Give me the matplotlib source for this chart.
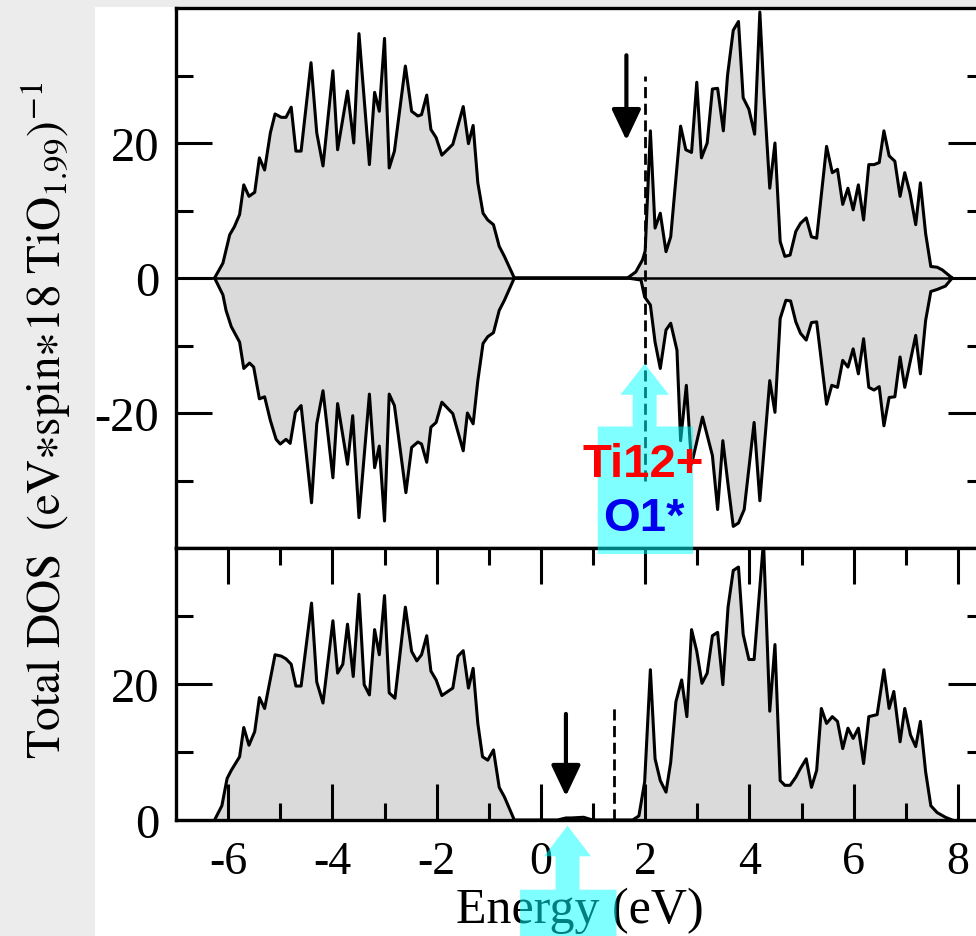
import numpy as np
import matplotlib
matplotlib.use('Agg')
import matplotlib.pyplot as plt
from matplotlib.patches import Polygon, Rectangle, FancyArrowPatch
from matplotlib.ticker import FixedLocator

plt.rcParams['font.family'] = ['Liberation Serif', 'DejaVu Serif']
plt.rcParams['mathtext.fontset'] = 'stix'
plt.rcParams['axes.unicode_minus'] = False

# ---------------- data ----------------
# top panel, spin up (valence band + conduction band)
up_E_val = [-6.26, -6.10, -5.97, -5.88, -5.78, -5.70, -5.60, -5.49, -5.40, -5.30,
            -5.19, -5.10, -4.98, -4.89, -4.79, -4.70, -4.60, -4.41, -4.30, -4.18,
            -3.99, -3.90, -3.71, -3.59, -3.49, -3.29, -3.19, -3.10, -3.00, -2.91,
            -2.81, -2.60, -2.48, -2.36, -2.29, -2.19, -2.11, -2.01, -1.90, -1.69,
            -1.49, -1.39, -1.30, -1.21, -1.11, -1.02, -0.91, -0.80, -0.70, -0.51]
up_D_val = [0, 2.2, 6.4, 7.6, 9.4, 13.8, 12.1, 12.7, 17.8, 16.0,
            21.5, 24.3, 23.8, 23.8, 25.3, 18.8, 18.8, 31.9, 21.5, 16.6,
            30.7, 19.0, 27.7, 20.0, 36.2, 16.8, 27.5, 24.7, 35.5, 16.3,
            18.8, 31.4, 24.7, 24.0, 24.2, 27.1, 22.0, 20.8, 18.2, 19.8,
            25.4, 19.9, 22.6, 14.1, 9.6, 8.6, 7.9, 4.7, 3.2, 0]
up_E_con = [1.66, 1.82, 1.95, 2.00, 2.10, 2.19, 2.29, 2.40, 2.49, 2.68,
            2.78, 2.89, 2.99, 3.08, 3.19, 3.29, 3.39, 3.50, 3.58, 3.69,
            3.79, 3.88, 3.99, 4.10, 4.20, 4.28, 4.39, 4.49, 4.59, 4.68,
            4.78, 4.89, 4.98, 5.09, 5.19, 5.29, 5.48, 5.59, 5.69, 5.79,
            5.89, 5.99, 6.09, 6.19, 6.29, 6.39, 6.49, 6.58, 6.68, 6.79,
            6.89, 6.98, 7.08, 7.19, 7.28, 7.38, 7.48, 7.60, 7.70, 7.89]
up_D_con = [0, 0.9, 2.7, 4.0, 21.8, 7.4, 9.6, 3.9, 6.1, 22.5,
            19.0, 18.6, 29.0, 17.8, 20.0, 28.0, 28.1, 21.8, 30.0, 36.7,
            38.0, 26.7, 25.0, 21.3, 39.4, 27.2, 13.3, 20.0, 5.4, 3.2,
            3.4, 6.9, 8.1, 8.9, 6.1, 5.9, 19.5, 15.6, 16.1, 10.9,
            13.3, 10.1, 13.8, 8.6, 16.8, 16.8, 17.1, 21.8, 18.1, 17.3,
            12.1, 15.6, 12.6, 7.9, 14.1, 6.6, 1.7, 1.6, 1.2, 0]

# top panel, spin down (magnitudes, plotted negative)
dn_E_val = [-6.26, -6.10, -6.04, -5.94, -5.78, -5.70, -5.59, -5.51, -5.40, -5.30,
            -5.19, -5.08, -5.00, -4.89, -4.81, -4.71, -4.60, -4.40, -4.30, -4.18,
            -3.99, -3.90, -3.71, -3.61, -3.49, -3.29, -3.19, -3.10, -3.00, -2.91,
            -2.81, -2.59, -2.48, -2.36, -2.29, -2.19, -2.11, -2.01, -1.90, -1.69,
            -1.49, -1.41, -1.30, -1.21, -1.11, -1.02, -0.91, -0.80, -0.70, -0.51]
dn_D_val = [0, 2.5, 4.8, 7.2, 9.5, 13.4, 12.6, 13.2, 17.9, 17.6,
            21.1, 23.9, 24.6, 23.9, 24.5, 19.9, 18.9, 33.3, 21.6, 16.7,
            29.6, 18.6, 27.6, 20.4, 35.5, 17.2, 28.1, 24.9, 36.0, 17.2,
            18.9, 31.8, 25.1, 24.3, 24.6, 27.3, 22.1, 21.4, 18.4, 20.1,
            25.6, 20.0, 21.6, 15.2, 9.7, 8.7, 8.1, 4.8, 3.3, 0]
dn_E_con = [1.66, 1.92, 1.99, 2.10, 2.19, 2.29, 2.40, 2.49, 2.61, 2.68,
            2.79, 2.89, 3.10, 3.29, 3.39, 3.49, 3.59, 3.69, 3.79, 3.90,
            4.09, 4.20, 4.39, 4.49, 4.59, 4.70, 4.79, 4.89, 4.98, 5.09,
            5.19, 5.29, 5.48, 5.58, 5.69, 5.79, 5.89, 5.99, 6.09, 6.19,
            6.29, 6.39, 6.49, 6.58, 6.68, 6.79, 6.89, 6.98, 7.19, 7.28,
            7.38, 7.48, 7.60, 7.76, 7.89]
dn_D_con = [0, 0.3, 2.8, 4.0, 9.5, 13.4, 7.7, 6.7, 10.7, 24.1,
            15.9, 27.6, 20.6, 26.3, 34.3, 24.1, 30.6, 36.8, 36.3, 34.3,
            21.4, 33.0, 15.2, 19.9, 6.0, 3.3, 3.4, 6.5, 8.2, 9.2,
            6.6, 6.5, 18.7, 15.9, 16.2, 12.2, 13.2, 10.5, 14.2, 9.0,
            16.2, 16.6, 16.1, 21.9, 17.7, 17.6, 11.7, 16.2, 8.5, 14.2,
            6.3, 2.0, 1.7, 1.2, 0]

# bottom panel (non spin-polarised)
bt_E_val = [-6.26, -6.12, -6.02, -5.94, -5.78, -5.70, -5.60, -5.49, -5.40, -5.30,
            -5.10, -4.98, -4.89, -4.79, -4.70, -4.60, -4.40, -4.30, -4.18, -3.99,
            -3.90, -3.80, -3.71, -3.60, -3.49, -3.39, -3.29, -3.19, -3.10, -3.00,
            -2.91, -2.80, -2.60, -2.48, -2.38, -2.29, -2.19, -2.11, -2.01, -1.90,
            -1.69, -1.59, -1.49, -1.39, -1.30, -1.21, -1.12, -1.02, -0.91, -0.80,
            -0.70, -0.51]
bt_D_val = [0, 2.1, 6.1, 7.3, 9.3, 13.6, 11.0, 13.0, 18.0, 16.4,
            24.3, 24.1, 23.7, 22.9, 19.7, 19.7, 31.9, 20.3, 17.2, 29.3,
            21.6, 22.9, 28.8, 21.1, 33.2, 19.9, 18.4, 28.0, 24.3, 33.0,
            18.7, 17.9, 31.3, 24.8, 23.4, 24.3, 27.1, 21.9, 20.6, 18.3,
            19.4, 24.1, 24.9, 19.4, 22.3, 14.2, 9.3, 8.8, 10.3, 4.8,
            3.4, 0]
bt_E_gap = [0.32, 0.48, 0.58, 0.82, 0.99]
bt_D_gap = [0, 0.3, 0.3, 0.4, 0]
bt_E_con = [1.76, 1.88, 1.99, 2.10, 2.19, 2.29, 2.40, 2.49, 2.59, 2.70,
            2.80, 2.89, 2.99, 3.09, 3.19, 3.29, 3.39, 3.49, 3.59, 3.69,
            3.79, 3.88, 3.99, 4.09, 4.20, 4.27, 4.39, 4.49, 4.59, 4.68,
            4.78, 4.89, 4.98, 5.09, 5.19, 5.29, 5.38, 5.48, 5.59, 5.69,
            5.79, 5.89, 5.99, 6.09, 6.19, 6.29, 6.45, 6.58, 6.68, 6.77,
            6.89, 6.98, 7.09, 7.19, 7.28, 7.38, 7.48, 7.60, 7.76, 7.89]
bt_D_con = [0, 0.6, 5.6, 22.1, 9.0, 5.8, 4.1, 8.5, 17.4, 20.6,
            15.2, 28.0, 24.8, 20.1, 21.6, 27.1, 27.6, 19.9, 31.3, 36.7,
            37.2, 27.3, 23.6, 23.6, 34.2, 41.0, 16.0, 25.8, 5.8, 5.1,
            5.1, 6.3, 7.6, 9.0, 4.8, 7.3, 16.4, 14.2, 15.2, 14.5,
            10.5, 13.5, 12.0, 13.5, 8.3, 15.2, 15.5, 22.1, 16.4, 18.9,
            11.5, 16.4, 12.5, 10.8, 14.5, 7.1, 2.1, 1.1, 0.4, 0]

x_major = [-6, -4, -2, 0, 2, 4, 6, 8]
x_minor = [-5, -3, -1, 1, 3, 5, 7]
top_yticks = [-20, 0, 20]
top_yminor = [-30, -10, 10, 30]
bot_yticks = [0, 20]
bot_yminor = [10, 30]

# annotation positions (eV, DOS)
top_fermi_E, top_fermi_span = 2.0, 30
bot_fermi_E, bot_fermi_top = 1.4, 17
top_arrow = (1.64, 33.0, 20.4)
bot_arrow = (0.48, 15.6, 3.5)

# ---------------- figure ----------------
W, H = 976, 937
fig = plt.figure(figsize=(W / 100, H / 100), dpi=100)
fig.patch.set_facecolor('white')
bg_gray = '#ececec'
fig.patches.append(Rectangle((0, 0), 95 / W, 1, transform=fig.transFigure,
                             facecolor=bg_gray, edgecolor='none', zorder=-10))
fig.patches.append(Rectangle((0, 1 - 8 / H), 1, 8 / H, transform=fig.transFigure,
                             facecolor=bg_gray, edgecolor='none', zorder=-10))

left = 176 / W
width = 808 / W
ax1 = fig.add_axes([left, 1 - 549 / H, width, 540 / H])
ax2 = fig.add_axes([left, 1 - 821 / H, width, 272 / H])

fill_c = '#dadada'
lw_curve = 2.2

upE = up_E_val + up_E_con
upD = up_D_val + up_D_con
dnE = dn_E_val + dn_E_con
dnD = [-v for v in dn_D_val + dn_D_con]
btE = bt_E_val + bt_E_gap + bt_E_con
btD = bt_D_val + bt_D_gap + bt_D_con

ax1.fill_between(upE, upD, 0, color=fill_c, lw=0)
ax1.fill_between(dnE, dnD, 0, color=fill_c, lw=0)
ax1.plot(upE, upD, color='k', lw=lw_curve)
ax1.plot(dnE, dnD, color='k', lw=lw_curve)
ax1.axhline(0, color='k', lw=1.8)

ax2.fill_between(btE, btD, 0, color=fill_c, lw=0)
ax2.plot(btE, btD, color='k', lw=lw_curve)

for ax in (ax1, ax2):
    ax.set_xlim(-7, 8.5)
    for sp in ax.spines.values():
        sp.set_linewidth(2.4)
    ax.tick_params(which='major', direction='in', length=26, width=2.2,
                   left=True, right=True, top=True, bottom=True)
    ax.tick_params(which='minor', direction='in', length=12, width=2.2,
                   left=True, right=True, top=True, bottom=True)
    ax.tick_params(axis='y', labelsize=35, pad=12)

ax1.set_ylim(-40, 40)
ax1.yaxis.set_major_locator(FixedLocator(top_yticks))
ax1.yaxis.set_minor_locator(FixedLocator(top_yminor))
ax1.set_xticks([])
ax1.tick_params(axis='x', which='both', top=False, bottom=False, labelbottom=False)

ax2.set_ylim(0, 40)
ax2.yaxis.set_major_locator(FixedLocator(bot_yticks))
ax2.yaxis.set_minor_locator(FixedLocator(bot_yminor))
ax2.xaxis.set_major_locator(FixedLocator(x_major))
ax2.xaxis.set_minor_locator(FixedLocator(x_minor))
ax2.set_xticklabels([str(v) for v in x_major])
ax2.tick_params(axis='x', labelsize=33, pad=15)
ax2.set_xlabel('Energy (eV)', fontsize=36, labelpad=2)

fig.text(46 / W, 1 - 420 / H,
         r'$\mathrm{Total\ DOS\ \ (eV{\ast}spin{\ast}18\ TiO_{1.99})^{-1}}$',
         rotation=90, ha='center', va='center', fontsize=34)

# dashed reference lines
ax1.plot([top_fermi_E, top_fermi_E], [-top_fermi_span, top_fermi_span],
         color='k', lw=2.0, dashes=(4, 2))
ax2.plot([bot_fermi_E, bot_fermi_E], [0, bot_fermi_top],
         color='k', lw=2.0, dashes=(4, 2))

# black arrows
for ax, (xa, y0, y1) in ((ax1, top_arrow), (ax2, bot_arrow)):
    ax.add_patch(FancyArrowPatch((xa, y0), (xa, y1),
                                 arrowstyle='-|>,head_length=0.95,head_width=0.45',
                                 mutation_scale=20, lw=3, color='k',
                                 shrinkA=0, shrinkB=0, zorder=6))

# cyan annotation callouts (semi-transparent)
def callout(ax, tip, head_y, head_half, stem_half, box_top, box_l, box_r, box_b):
    x0 = tip[0]
    pts = [tip, (x0 + head_half, head_y), (x0 + stem_half, head_y),
           (x0 + stem_half, box_top), (box_r, box_top), (box_r, box_b),
           (box_l, box_b), (box_l, box_top), (x0 - stem_half, box_top),
           (x0 - stem_half, head_y), (x0 - head_half, head_y)]
    fig.add_artist(Polygon(pts, closed=True, transform=ax.transData,
                           facecolor='#00ffff', edgecolor='none', alpha=0.5,
                           zorder=10))

callout(ax1, (1.99, -12.7), -17.3, 0.465, 0.23, -22.0, 1.09, 2.92, -40.9)
callout(ax2, (0.51, -0.84), -5.34, 0.45, 0.23, -10.25, -0.40, 1.45, -25)

lab_font = dict(family=['Liberation Sans', 'DejaVu Sans'], weight='bold',
                fontsize=34, ha='center', va='center', zorder=11)
fig.text(1.97, -27.6, 'Ti12+', color='#ff0000', transform=ax1.transData, **lab_font)
fig.text(1.97, -35.6, 'O1*', color='#0000ee', transform=ax1.transData, **lab_font)
fig.text(0.52, -16.7, 'O2*', color='#0000ee', transform=ax2.transData,
         **{**lab_font, 'va': 'top'})

fig.savefig('out.png', dpi=100)
